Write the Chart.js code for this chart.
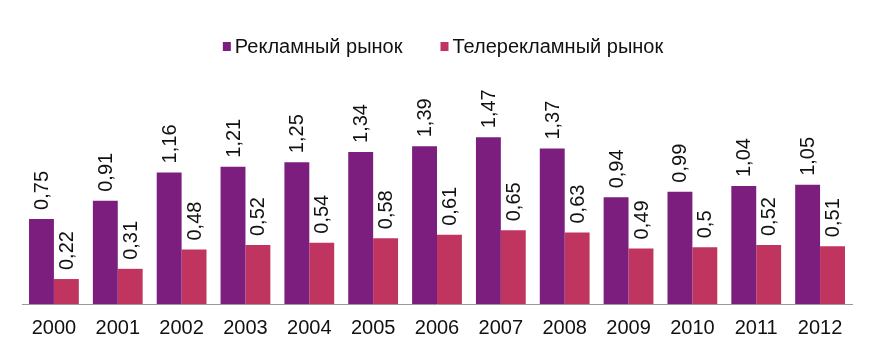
<!DOCTYPE html>
<html>
<head>
<meta charset="utf-8">
<script src="https://cdn.jsdelivr.net/npm/chart.js@4"></script>
<style>
  html, body { margin: 0; padding: 0; background: #fff; }
  #wrap { width: 877px; height: 352px; }
</style>
</head>
<body>
<div id="wrap"><canvas id="adMarketChart"></canvas></div>
<script>
const years = ['2000', '2001', '2002', '2003', '2004', '2005', '2006', '2007', '2008', '2009', '2010', '2011', '2012'];
const adMarket = [0.75, 0.91, 1.16, 1.21, 1.25, 1.34, 1.39, 1.47, 1.37, 0.94, 0.99, 1.04, 1.05];
const tvAdMarket = [0.22, 0.31, 0.48, 0.52, 0.54, 0.58, 0.61, 0.65, 0.63, 0.49, 0.5, 0.52, 0.51];

const fontFamily = '"Liberation Sans", Arial, sans-serif';

// rotated value labels above each bar
const valueLabels = {
    id: 'valueLabels',
    afterDatasetsDraw(chart) {
        const ctx = chart.ctx;
        ctx.save();
        ctx.font = '20px ' + fontFamily;
        ctx.fillStyle = '#111';
        ctx.textAlign = 'left';
        ctx.textBaseline = 'middle';
        chart.data.datasets.forEach((ds, i) => {
            chart.getDatasetMeta(i).data.forEach((bar, j) => {
                let txt = String(ds.data[j]).replace('.', ',');
                ctx.save();
                ctx.translate(bar.x + 1, bar.y - 9);
                ctx.rotate(-Math.PI / 2);
                ctx.fillText(txt, 0, 0);
                ctx.restore();
            });
        });
        ctx.restore();
    }
};

// legend with tight box-to-text gap, like the original
const topLegend = {
    id: 'topLegend',
    afterDraw(chart) {
        const ctx = chart.ctx;
        const box = 8, textGap = 4, itemGap = 38, y = 47;
        ctx.save();
        ctx.font = '20px ' + fontFamily;
        ctx.textBaseline = 'middle';
        ctx.textAlign = 'left';
        let items = chart.data.datasets.map(ds => ({label: ds.label, color: ds.backgroundColor, w: ctx.measureText(ds.label).width}));
        let total = 0;
        items.forEach((it, i) => {
            total += box + textGap + it.w + (i > 0 ? itemGap : 0);
        });
        let x = 443 - total / 2;
        items.forEach(it => {
            ctx.fillStyle = it.color;
            ctx.fillRect(x, y - box / 2 - 1, box, box + 1);
            ctx.fillStyle = '#111';
            ctx.fillText(it.label, x + box + textGap, y);
            x += box + textGap + it.w + itemGap;
        });
        ctx.restore();
    }
};

new Chart(document.getElementById('adMarketChart'), {
    type: 'bar',
    data: {
        labels: years,
        datasets: [
            {label: 'Рекламный рынок', data: adMarket, backgroundColor: '#7b1e7e'},
            {label: 'Телерекламный рынок', data: tvAdMarket, backgroundColor: '#c0355f'}
        ]
    },
    options: {
        responsive: true,
        maintainAspectRatio: false,
        animation: false,
        layout: {padding: {left: 22, right: 25, top: 68, bottom: 8}},
        datasets: {bar: {categoryPercentage: 0.78, barPercentage: 1}},
        plugins: {
            legend: {display: false},
            tooltip: {enabled: false}
        },
        scales: {
            x: {
                grid: {display: false},
                border: {display: true, color: '#999'},
                ticks: {color: '#111', padding: 4, font: {size: 20, family: fontFamily}}
            },
            y: {display: false, min: 0, max: 2.08}
        }
    },
    plugins: [valueLabels, topLegend]
});
</script>
</body>
</html>
